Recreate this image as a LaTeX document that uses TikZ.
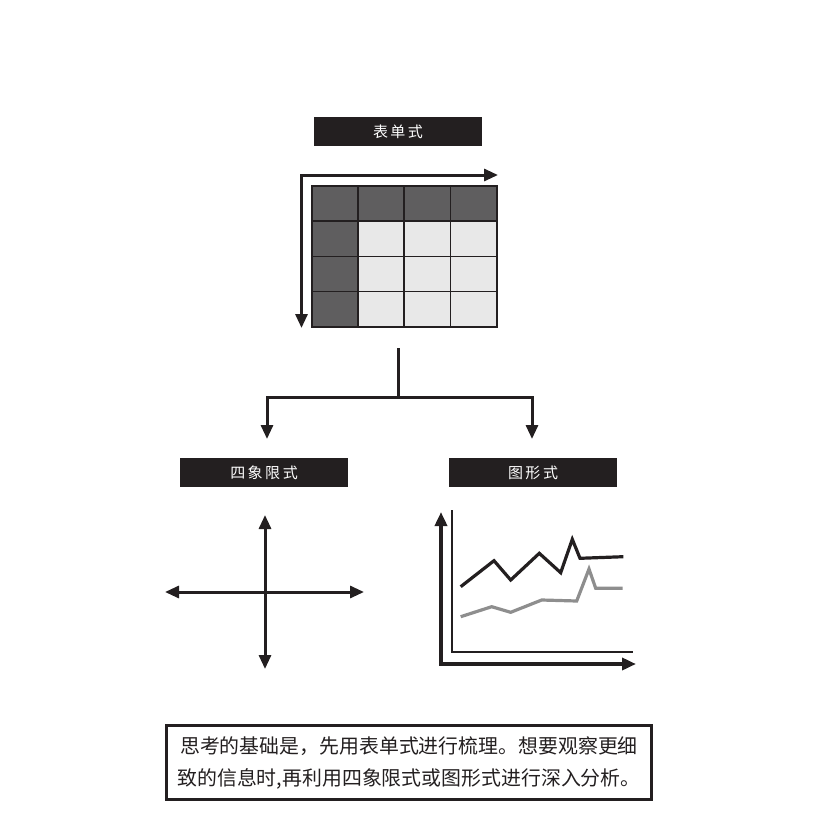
\documentclass[tikz,border=0pt]{standalone}
\usepackage{fontspec}
\newfontfamily\cjk{Noto Sans CJK SC}
\usetikzlibrary{arrows.meta}
\definecolor{ink}{HTML}{231F20}
\definecolor{celldark}{HTML}{5F5E5F}
\definecolor{celllight}{HTML}{E8E8E8}
\definecolor{linegray}{HTML}{8E8E8E}
\begin{document}
\begin{tikzpicture}[x=1pt,y=-1pt,
  titlebox/.style={fill=ink, text=white, minimum width=168pt, minimum height=29pt,
    inner sep=0pt, font=\cjk\fontsize{15}{15}\selectfont},
  heavy/.style={line width=3pt, draw=ink},
  arr/.style={heavy, -{Triangle[length=14pt,width=12pt]}},
  dblarr/.style={heavy, {Triangle[length=14pt,width=12pt]}-{Triangle[length=14pt,width=12pt]}},
]
\useasboundingbox (0,0) rectangle (825,822);

% ---- table block -------------------------------------------------
\node[titlebox] (t1) at (398,131.5) {表\,单\,式};

\node[minimum width=185pt, minimum height=141pt, inner sep=0pt] (tbl) at (404.5,256.5) {};
\fill[celldark] (312,186) rectangle (497,221);
\fill[celldark] (312,221) rectangle (358,327);
\fill[celllight] (358,221) rectangle (497,327);
\foreach \cx in {358,404,450.5} \draw[ink, line width=1.2pt] (\cx,186) -- (\cx,327);
\foreach \cy in {221,256.5,291.5} \draw[ink, line width=1.2pt] (312,\cy) -- (497,\cy);
\draw[ink, line width=2.5pt] (tbl.north west) rectangle (tbl.south east);

\coordinate (corner) at (301.5,175);
\coordinate (rowend) at (498,175);
\coordinate (colend) at (301.5,328);
\draw[dblarr, line join=miter] (rowend) -- (corner) -- (colend);

% ---- branching connector -----------------------------------------
\node[titlebox] (t2) at (264,472.5) {四\,象\,限\,式};
\node[titlebox] (t3) at (533,472.5) {图\,形\,式};

\coordinate (stem) at (398,348);
\coordinate (fork) at (398,397);
\coordinate (leftdrop) at (267,458);
\coordinate (rightdrop) at (532,458);
\draw[heavy] (stem) -- (fork);
\draw[arr, shorten >=19pt] (fork) -| (leftdrop);
\draw[arr, shorten >=19pt] (fork) -| (rightdrop);

% ---- four quadrants ----------------------------------------------
\coordinate (qtop) at (265,515);
\coordinate (qbot) at (265,669);
\coordinate (qleft) at (165,592);
\coordinate (qright) at (364,592);
\draw[dblarr] (qtop) -- (qbot);
\draw[dblarr] (qleft) -- (qright);

% ---- line chart --------------------------------------------------
\coordinate (ytip) at (441,512);
\coordinate (origin) at (441,664);
\coordinate (xtip) at (636,664);
\draw[heavy, line width=3.5pt, {Triangle[length=14pt,width=12pt]}-{Triangle[length=14pt,width=12pt]}, line join=miter]
  (ytip) -- (origin) -- (xtip);
\draw[ink, line width=2pt] (452,510) -- (452,652) -- (633,652);
\draw[linegray, line width=3.2pt, line join=miter]
  (460.7,616.7) -- (491.7,606.7) -- (510.7,612.3) -- (541.7,600) -- (576.7,601)
  -- (589,569) -- (595.7,588.3) -- (622.7,588.3);
\draw[ink, line width=3.2pt, line join=miter]
  (460.7,586.7) -- (494,560.7) -- (510.7,580) -- (539.3,553.3) -- (560.7,572.7)
  -- (572.3,539.3) -- (580,558.3) -- (623.3,556.7);

% ---- summary note ------------------------------------------------
\node[draw=ink, line width=3pt, minimum width=485pt, minimum height=74pt, inner sep=0pt]
  (note) at (409,762.5) {};
\node[text=ink, font=\cjk\fontsize{19.9}{32}\selectfont, align=center, inner sep=0pt]
  (notetext) at (note.center)
  {思考的基础是，先用表单式进行梳理。想要观察更细\\致的信息时,再利用四象限式或图形式进行深入分析。};
\end{tikzpicture}
\end{document}
